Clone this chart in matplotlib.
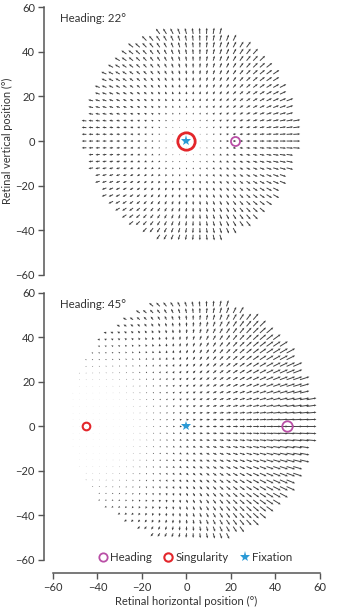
import matplotlib.pyplot as plt
import numpy as np

plt.rcParams['font.family'] = ['Lato', 'DejaVu Sans']

# panel parameters (degrees)
headings = [22, 45]
singularities = [0, -45]
fixation = [0, 0]
grid_step = 3
grid_centers = [(1.5, 3.0), (1.0, 3.0)]
grid_radii = [47, 54]

heading_color = '#b94fa6'
sing_color = '#e3262b'
fix_color = '#2b9ad6'
arrow_color = '#404040'
spine_color = '#555555'
text_color = '#333333'


def flow_field(h_deg, s_deg, cx, cy, radius):
    # translation toward heading on a sphere of constant depth, plus an eye
    # rotation about the vertical axis that nulls the flow at the singularity
    g = np.arange(-60, 61, grid_step)
    X, Y = np.meshgrid(g, g)
    keep = (X - cx) ** 2 + (Y - cy) ** 2 <= radius ** 2
    x, y = X[keep], Y[keep]
    a, e = np.radians(x), np.radians(y)
    h, s = np.radians(h_deg), np.radians(s_deg)
    u = np.sin(a - h) / np.cos(e) - np.sin(s - h)
    v = np.sin(e) * np.cos(a - h)
    return x, y, u, v


fig = plt.figure(figsize=(3.41, 6.13), dpi=100)
ax_top = fig.add_axes([0.1554, 0.5514, 0.783, 0.437])
ax_bot = fig.add_axes([0.1554, 0.0865, 0.783, 0.4356])

for i, ax in enumerate([ax_top, ax_bot]):
    cx, cy = grid_centers[i]
    x, y, u, v = flow_field(headings[i], singularities[i], cx, cy, grid_radii[i])
    ax.quiver(x, y, u, v, angles='xy', scale_units='xy', scale=1 / 3.8,
              color=arrow_color, width=0.0036, headwidth=2.4, headlength=2.6,
              headaxislength=2.3, minlength=0.3, pivot='tail', zorder=2)

    ax.set_xlim(-60, 60)
    ax.set_ylim(-60, 60)
    for side in ['top', 'right']:
        ax.spines[side].set_visible(False)
    ax.spines['left'].set_position(('outward', 6.5))
    ax.spines['left'].set_bounds(-60, 60)
    ax.spines['left'].set_color(spine_color)
    ax.spines['left'].set_linewidth(1.1)
    ax.set_yticks([-60, -40, -20, 0, 20, 40, 60])
    ax.tick_params(axis='both', colors=spine_color, labelcolor=text_color,
                   labelsize=8, length=4, width=1.0, direction='out', pad=2.5)
    ax.text(-57, 55, f'Heading: {headings[i]}\u00b0', fontsize=8.3,
            color=text_color, va='center', ha='left')

    big = i == 0
    ax.plot(headings[i], 0, 'o', mfc='none', mec=heading_color,
            ms=6.5 if big else 7.5, mew=1.3, zorder=4)
    ax.plot(singularities[i], 0, 'o', mfc='none', mec=sing_color,
            ms=12.5 if big else 5.5, mew=2.0 if big else 1.5, zorder=4)
    ax.plot(fixation[0], fixation[1], '*', color=fix_color,
            ms=8 if big else 7, mew=0, zorder=5)

ax_top.spines['bottom'].set_visible(False)
ax_top.set_xticks([])
ax_top.set_ylabel('Retinal vertical position (\u00b0)', fontsize=7.8,
                  color=text_color)
ax_top.yaxis.set_label_coords(-0.15, 0.5)

ax_bot.spines['bottom'].set_position(('outward', 9.5))
ax_bot.spines['bottom'].set_bounds(-60, 60)
ax_bot.spines['bottom'].set_color(spine_color)
ax_bot.spines['bottom'].set_linewidth(1.1)
ax_bot.set_xticks([-60, -40, -20, 0, 20, 40, 60])
ax_bot.set_xlabel('Retinal horizontal position (\u00b0)', fontsize=8.0,
                  color=text_color, labelpad=2)

handles = [
    plt.Line2D([], [], marker='o', ls='none', mfc='none', mec=heading_color, ms=6, mew=1.3),
    plt.Line2D([], [], marker='o', ls='none', mfc='none', mec=sing_color, ms=6, mew=1.5),
    plt.Line2D([], [], marker='*', ls='none', color=fix_color, ms=8, mew=0),
]
ax_bot.legend(handles, ['Heading', 'Singularity', 'Fixation'], loc='lower center',
              bbox_to_anchor=(0.53, -0.05), ncol=3, frameon=False, fontsize=8.3,
              handletextpad=0.05, columnspacing=0.9, handlelength=1.1,
              labelcolor=text_color)

fig.savefig('out.png', dpi=100)
